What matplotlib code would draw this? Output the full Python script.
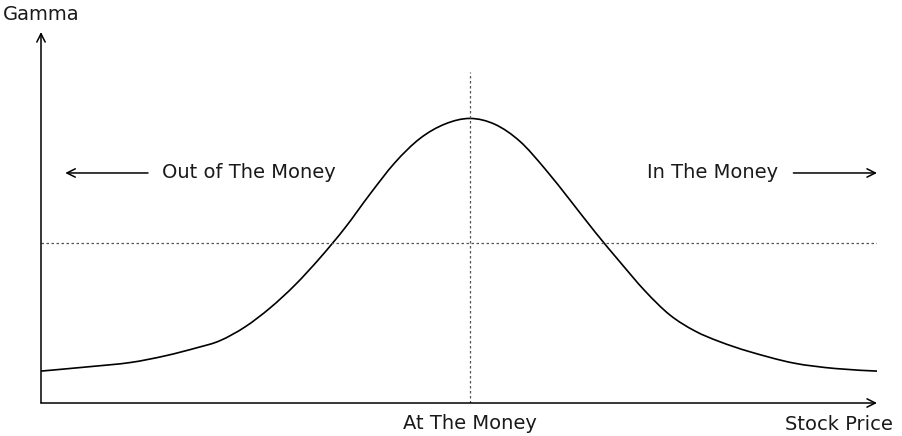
import matplotlib
matplotlib.use("Agg")
import matplotlib.pyplot as plt
from matplotlib.path import Path
from matplotlib.patches import PathPatch

# stock price (0..100) and gamma (axis height = 1.0)
price = [0.0, 5.86, 10.65, 14.83, 18.66, 21.41, 24.40, 27.39, 30.38, 33.37,
         36.36, 39.35, 42.34, 45.33, 48.33, 51.32, 54.31, 57.30, 60.29, 63.28,
         66.27, 69.26, 72.25, 75.24, 78.23, 81.22, 84.81, 89.95, 94.98, 100.0]
gamma = [0.086, 0.098, 0.109, 0.127, 0.149, 0.168, 0.205, 0.256, 0.318, 0.391,
         0.472, 0.563, 0.648, 0.713, 0.752, 0.767, 0.751, 0.705, 0.631, 0.547,
         0.461, 0.380, 0.302, 0.237, 0.194, 0.165, 0.138, 0.108, 0.093, 0.086]

atm_price = 51.3      # at the money
ref_gamma = 0.431     # horizontal reference
atm_line_top = 0.892

labels = {"y": "Gamma", "x": "Stock Price", "atm": "At The Money",
          "otm": "Out of The Money", "itm": "In The Money"}

TXT = "#1a1a1a"
FS = 14


def smooth_path(xs, ys):
    """点を全部通るベジェ曲線 (Catmull-Rom)."""
    pts = list(zip(xs, ys))
    n = len(pts)
    verts = [pts[0]]
    codes = [Path.MOVETO]
    for i in range(n - 1):
        p0 = pts[max(i - 1, 0)]
        p1 = pts[i]
        p2 = pts[i + 1]
        p3 = pts[min(i + 2, n - 1)]
        c1 = (p1[0] + (p2[0] - p0[0]) / 6, p1[1] + (p2[1] - p0[1]) / 6)
        c2 = (p2[0] - (p3[0] - p1[0]) / 6, p2[1] - (p3[1] - p1[1]) / 6)
        verts += [c1, c2, p2]
        codes += [Path.CURVE4] * 3
    return Path(verts, codes)


fig = plt.figure(figsize=(9.03, 4.36), dpi=100)
ax = fig.add_axes([41 / 903, 33 / 436, 836 / 903, 371 / 436])
ax.set_xlim(0, 100)
ax.set_ylim(0, 1)
ax.axis("off")

# axes with arrow heads
arr = dict(arrowstyle="->", lw=1.1, color="black", shrinkA=0, shrinkB=0,
           mutation_scale=15)
ax.annotate("", xy=(0, 1), xytext=(0, 0), arrowprops=arr, annotation_clip=False)
ax.annotate("", xy=(100, 0), xytext=(0, 0), arrowprops=arr, annotation_clip=False)

# dotted guides
ax.plot([0, 100], [ref_gamma, ref_gamma], color="#555555", lw=0.9,
        linestyle=(0, (2, 2)))
ax.plot([atm_price, atm_price], [0, atm_line_top], color="#555555", lw=0.9,
        linestyle=(0, (2, 2)))

# gamma curve
ax.add_patch(PathPatch(smooth_path(price, gamma), facecolor="none",
                       edgecolor="black", lw=1.2))

# text
ax.text(0, 1.046, labels["y"], ha="center", va="center", fontsize=FS, color=TXT,
        clip_on=False)
ax.text(101.9, -0.059, labels["x"], ha="right", va="center", fontsize=FS,
        color=TXT, clip_on=False)
ax.text(atm_price, -0.054, labels["atm"], ha="center", va="center", fontsize=FS,
        color=TXT, clip_on=False)
ax.text(14.5, 0.62, labels["otm"], ha="left", va="center", fontsize=FS, color=TXT)
ax.text(88.2, 0.62, labels["itm"], ha="right", va="center", fontsize=FS, color=TXT)
ax.annotate("", xy=(2.9, 0.62), xytext=(12.8, 0.62), arrowprops=arr)
ax.annotate("", xy=(100, 0.62), xytext=(90.0, 0.62), arrowprops=arr)

fig.savefig("out.png", dpi=100, facecolor="white")
